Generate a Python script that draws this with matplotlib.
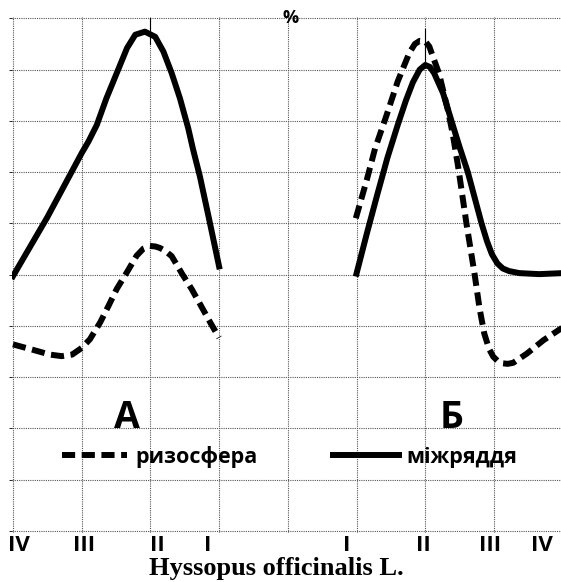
import numpy as np
import matplotlib
matplotlib.use("Agg")
import matplotlib.pyplot as plt

plt.rcParams['font.family'] = ['Open Sans', 'DejaVu Sans']

# ---------------- data (grid units) ----------------
# panel A (left): x runs IV..I at 0..3 ; panel Б (right): I..IV at 5..8
vecSolidAX = [0.0, 0.5, 1.0, 1.1, 1.22, 1.36, 1.51, 1.66, 1.78, 1.92, 2.07, 2.19, 2.31,
              2.43, 2.55, 2.62, 2.72, 2.86, 3.0]
vecSolidAY = [4.97, 6.12, 7.37, 7.6, 7.92, 8.44, 8.93, 9.42, 9.68, 9.74, 9.64, 9.35, 8.93,
              8.44, 7.86, 7.45, 6.92, 6.05, 5.16]

vecDashAX = [0.0, 0.3, 0.54, 0.71, 0.86, 1.0, 1.12, 1.27, 1.39, 1.51, 1.66, 1.8, 1.9, 1.99,
             2.07, 2.14, 2.22, 2.31, 2.46, 2.6, 2.75, 2.87, 3.0]
vecDashAY = [3.64, 3.53, 3.44, 3.41, 3.44, 3.57, 3.74, 4.07, 4.39, 4.72, 5.05, 5.37, 5.51, 5.56,
             5.55, 5.52, 5.46, 5.36, 5.02, 4.72, 4.36, 4.07, 3.77]

vecSolidBX = [5.0, 5.15, 5.3, 5.45, 5.6, 5.72, 5.82, 5.92, 6.0, 6.07, 6.13, 6.26, 6.38, 6.5,
              6.62, 6.72, 6.82, 6.9, 6.97, 7.05, 7.13, 7.22, 7.37, 7.66, 8.0]
vecSolidBY = [5.02, 5.8, 6.55, 7.28, 7.92, 8.4, 8.75, 9.0, 9.09, 9.05, 8.93, 8.54, 8.01, 7.49,
              7.0, 6.5, 6.0, 5.65, 5.4, 5.22, 5.12, 5.07, 5.03, 5.01, 5.03]

vecDashBX = [4.99, 5.15, 5.27, 5.43, 5.6, 5.77, 5.85, 5.92, 6.0, 6.06, 6.11, 6.2, 6.33,
             6.4, 6.48, 6.6, 6.72, 6.79, 6.86, 6.93, 6.99, 7.06, 7.13, 7.2, 7.28, 7.48,
             7.72, 8.0]
vecDashBY = [6.1, 6.85, 7.46, 8.08, 8.77, 9.33, 9.5, 9.56, 9.55, 9.45, 9.26, 8.93, 8.21,
             7.75, 7.1, 6.0, 5.0, 4.35, 3.85, 3.55, 3.4, 3.31, 3.27, 3.26, 3.28, 3.46,
             3.72, 3.97]

vecTickPos = [0.09, 1.03, 2.1, 2.84, 4.85, 5.98, 6.94, 7.7]
vecTickLabels = ["IV", "III", "II", "I", "I", "II", "III", "IV"]

strDash = "ризосфера"
strSolid = "міжряддя"

# ---------------- figure ----------------
fig = plt.figure(figsize=(5.61, 5.82), dpi=100)
ax = fig.add_axes([0.02068, 0.08505, 0.9822, 0.8861])
ax.set_xlim(-0.02, 8.0)
ax.set_ylim(-0.03, 10.03)

for s in ax.spines.values():
    s.set_visible(False)

ax.set_xticks(np.arange(0, 9, 1), minor=True)
ax.set_yticks(np.arange(0, 11, 1), minor=True)
ax.set_yticks([])
ax.set_xticks(vecTickPos, vecTickLabels, fontsize=16, fontweight="bold")
ax.tick_params(axis="x", which="both", length=0, pad=2)
ax.grid(which="minor", color="#555555", linestyle=(0, (1, 1)), linewidth=0.8)
ax.grid(which="major", visible=False)

lw = 4.3
dash = (0, (2.2, 1.1))

ax.plot(vecSolidAX, vecSolidAY, color="black", linewidth=lw, solid_joinstyle="round")
ax.plot(vecDashAX, vecDashAY, color="black", linewidth=lw, linestyle=dash)
ax.plot(vecSolidBX, vecSolidBY, color="black", linewidth=lw, solid_joinstyle="round",
        label=strSolid)
ax.plot(vecDashBX, vecDashBY, color="black", linewidth=lw, linestyle=dash, label=strDash)

# small marker lines at the peaks
ax.plot([2, 2], [9.5, 10.0], color="black", linewidth=0.8)
ax.plot([6, 6], [9.1, 9.8], color="black", linewidth=0.8)

h, l = ax.get_legend_handles_labels()
ax.legend(h[::-1], l[::-1], ncol=2, frameon=False, loc="center left",
          bbox_to_anchor=(0.71, 1.45), bbox_transform=ax.transData,
          borderpad=0, borderaxespad=0, handlelength=3.05, handletextpad=0.37,
          columnspacing=3.5, prop={"size": 15.5, "weight": "bold"})

ax.text(1.66, 2.0, "А", fontsize=27, fontweight="bold", ha="center", va="baseline")
ax.text(6.38, 2.0, "Б", fontsize=27, fontweight="bold", ha="center", va="baseline")
ax.text(4.04, 10.0, "%", fontsize=13, fontweight="bold", ha="center", va="center")

fig.text(0.492, 1 - 569 / 582, "Hyssopus officinalis L.", family="Liberation Serif",
         fontsize=19, fontweight="bold", ha="center", va="center")

fig.savefig("out.png", dpi=100)
